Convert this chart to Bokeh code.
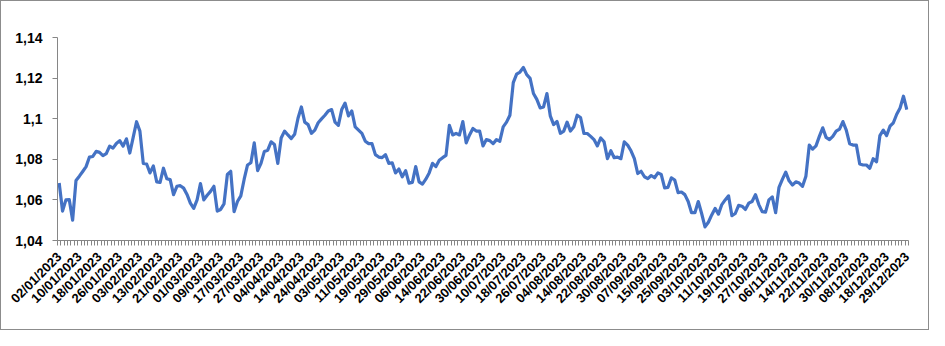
import math
from bokeh.plotting import figure
from bokeh.models import FixedTicker, Range1d, CustomJSTickFormatter, ColumnDataSource
from bokeh.embed import file_html
from bokeh.resources import INLINE

# EUR/USD daily rate, 2023 (one value per business day)
rates = [
    1.0683, 1.0545, 1.0600, 1.0601, 1.0500, 1.0696, 1.0717, 1.0740, 1.0764, 1.0811,
    1.0814, 1.0839, 1.0834, 1.0818, 1.0828, 1.0865, 1.0855, 1.0878, 1.0892, 1.0865,
    1.0901, 1.0831, 1.0908, 1.0985, 1.0939, 1.0780, 1.0777, 1.0733, 1.0767, 1.0689,
    1.0686, 1.0756, 1.0704, 1.0700, 1.0626, 1.0667, 1.0670, 1.0658, 1.0627, 1.0584,
    1.0558, 1.0600, 1.0680, 1.0600, 1.0623, 1.0642, 1.0667, 1.0545, 1.0553, 1.0580,
    1.0725, 1.0741, 1.0542, 1.0592, 1.0620, 1.0702, 1.0772, 1.0783, 1.0881, 1.0744,
    1.0780, 1.0839, 1.0845, 1.0886, 1.0873, 1.0780, 1.0905, 1.0939, 1.0920, 1.0902,
    1.0923, 1.1002, 1.1058, 1.0983, 1.0971, 1.0928, 1.0944, 1.0980, 1.0999, 1.1017,
    1.1038, 1.1045, 1.0983, 1.0967, 1.1045, 1.1077, 1.1014, 1.1038, 1.0960, 1.0944,
    1.0928, 1.0889, 1.0877, 1.0877, 1.0823, 1.0811, 1.0808, 1.0823, 1.0780, 1.0783,
    1.0733, 1.0752, 1.0714, 1.0744, 1.0683, 1.0686, 1.0764, 1.0689, 1.0678, 1.0702,
    1.0733, 1.0780, 1.0764, 1.0795, 1.0808, 1.0819, 1.0967, 1.0920, 1.0928, 1.0920,
    1.0986, 1.0881, 1.0920, 1.0952, 1.0939, 1.0939, 1.0866, 1.0897, 1.0892, 1.0877,
    1.0897, 1.0889, 1.0960, 1.0983, 1.1017, 1.1178, 1.1220, 1.1230, 1.1252, 1.1217,
    1.1199, 1.1124, 1.1095, 1.1053, 1.1058, 1.1124, 1.1014, 1.0971, 1.0986, 1.0928,
    1.0939, 1.0983, 1.0939, 1.0960, 1.1017, 1.1006, 1.0928, 1.0927, 1.0913, 1.0897,
    1.0866, 1.0905, 1.0886, 1.0803, 1.0842, 1.0808, 1.0811, 1.0803, 1.0886, 1.0870,
    1.0842, 1.0803, 1.0730, 1.0741, 1.0714, 1.0705, 1.0720, 1.0709, 1.0733, 1.0725,
    1.0659, 1.0662, 1.0709, 1.0698, 1.0636, 1.0639, 1.0626, 1.0592, 1.0537, 1.0537,
    1.0592, 1.0533, 1.0467, 1.0490, 1.0526, 1.0558, 1.0530, 1.0577, 1.0600, 1.0620,
    1.0522, 1.0533, 1.0573, 1.0569, 1.0553, 1.0584, 1.0592, 1.0626, 1.0577, 1.0542,
    1.0540, 1.0600, 1.0615, 1.0537, 1.0662, 1.0701, 1.0737, 1.0694, 1.0673, 1.0689,
    1.0683, 1.0667, 1.0717, 1.0870, 1.0850, 1.0866, 1.0913, 1.0955, 1.0908, 1.0897,
    1.0913, 1.0939, 1.0949, 1.0986, 1.0944, 1.0877, 1.0870, 1.0870, 1.0777, 1.0772,
    1.0772, 1.0756, 1.0803, 1.0788, 1.0917, 1.0944, 1.0917, 1.0963, 1.0980, 1.1022,
    1.1053, 1.1111, 1.1045,
]

# date labels shown on the x axis (every 6th business day)
date_labels = [
    "02/01/2023", "10/01/2023", "18/01/2023", "26/01/2023", "03/02/2023", "13/02/2023",
    "21/02/2023", "01/03/2023", "09/03/2023", "17/03/2023", "27/03/2023", "04/04/2023",
    "14/04/2023", "24/04/2023", "03/05/2023", "11/05/2023", "19/05/2023", "29/05/2023",
    "06/06/2023", "14/06/2023", "22/06/2023", "30/06/2023", "10/07/2023", "18/07/2023",
    "26/07/2023", "04/08/2023", "14/08/2023", "22/08/2023", "30/08/2023", "07/09/2023",
    "15/09/2023", "25/09/2023", "03/10/2023", "11/10/2023", "19/10/2023", "27/10/2023",
    "06/11/2023", "14/11/2023", "22/11/2023", "30/11/2023", "08/12/2023", "18/12/2023",
    "29/12/2023",
]
label_step = 6

y_ticks = [1.04, 1.06, 1.08, 1.10, 1.12, 1.14]

n = len(rates)
idx = list(range(n))
src = ColumnDataSource(dict(x=idx, y=rates))

p = figure(width=929, height=330, output_backend="svg", toolbar_location=None,
           x_range=Range1d(-0.5, n - 0.5), y_range=Range1d(1.04, 1.14),
           min_border_left=56, min_border_right=22, min_border_top=36, min_border_bottom=91)
p.styles = {"border": "1px solid #8c8c8c", "box-sizing": "border-box"}

p.line("x", "y", source=src, line_color="#4472C4", line_width=3.2, line_join="round")

p.xgrid.visible = False
p.ygrid.visible = False
p.outline_line_color = None
p.background_fill_color = "white"
p.border_fill_color = "white"

axis_col = "#868686"
font = "Liberation Sans"

# x axis
label_pos = [i * label_step for i in range(len(date_labels))]
p.xaxis.ticker = FixedTicker(ticks=label_pos, minor_ticks=[i - 0.5 for i in range(n + 1)])
p.xaxis.major_label_overrides = {pos: lab for pos, lab in zip(label_pos, date_labels)}
p.xaxis.major_label_orientation = math.pi / 4
p.xaxis.major_tick_line_color = None
p.xaxis.major_tick_out = 5
p.xaxis.major_tick_in = 0
p.xaxis.minor_tick_line_color = axis_col
p.xaxis.minor_tick_out = 5
p.xaxis.minor_tick_in = 0
p.xaxis.axis_line_color = axis_col
p.xaxis.major_label_text_font = font
p.xaxis.major_label_text_font_style = "bold"
p.xaxis.major_label_text_font_size = "13px"
p.xaxis.major_label_text_color = "black"
p.xaxis.major_label_standoff = 9

# y axis
p.yaxis.ticker = FixedTicker(ticks=y_ticks, minor_ticks=[])
p.yaxis.formatter = CustomJSTickFormatter(code="""
    let s = tick.toFixed(2);
    if (s.endsWith('0')) s = s.slice(0, -1);
    return s.replace('.', ',');
""")
p.yaxis.axis_line_color = axis_col
p.yaxis.major_tick_line_color = axis_col
p.yaxis.major_tick_out = 5
p.yaxis.major_tick_in = 0
p.yaxis.minor_tick_line_color = None
p.yaxis.major_label_text_font = font
p.yaxis.major_label_text_font_style = "bold"
p.yaxis.major_label_text_font_size = "14px"
p.yaxis.major_label_text_color = "black"
p.yaxis.major_label_standoff = 10

open("out.html", "w").write(file_html(p, INLINE))
